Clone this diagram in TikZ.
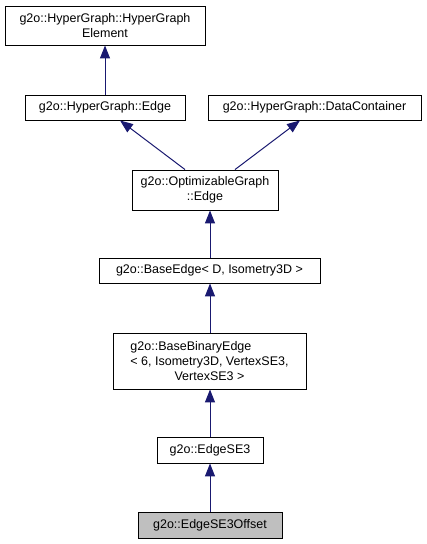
\documentclass[tikz,border=0pt]{standalone}
\usepackage{fontspec}
\setmainfont{Liberation Sans}
\usetikzlibrary{arrows.meta,calc}
\definecolor{edgeblue}{HTML}{191970}
\definecolor{curfill}{HTML}{BFBFBF}
\tikzset{
  cls/.style={draw=black, line width=0.9pt, fill=white, inner sep=0pt, align=center,
    font=\fontsize{12.5}{15}\selectfont},
  inh/.style={draw=edgeblue, line width=1pt, -{Triangle[length=13pt,width=10pt,fill=edgeblue]}},
}
\begin{document}
\begin{tikzpicture}[x=1pt,y=-1pt]
\useasboundingbox (0,0) rectangle (427,544);
\node[cls, minimum width=200, minimum height=39] (elem) at (105,25.5) {g2o::HyperGraph::HyperGraph\\Element};
\node[cls, minimum width=160, minimum height=25] (hge) at (105,107.5) {g2o::HyperGraph::Edge};
\node[cls, minimum width=213, minimum height=25] (dc) at (314.5,107.5) {g2o::HyperGraph::DataContainer};
\node[cls, minimum width=146, minimum height=40] (oge) at (205,190) {g2o::OptimizableGraph\\::Edge};
\node[cls, minimum width=221, minimum height=25] (be) at (209.5,270.5) {g2o::BaseEdge< D, Isometry3D >};
\node[cls, minimum width=193, minimum height=56] (bbe) at (209.5,361) {\rlap{g2o::BaseBinaryEdge}\phantom{< 6, Isometry3D, VertexSE3,}\\< 6, Isometry3D, VertexSE3,\\VertexSE3 >};
\node[cls, minimum width=106, minimum height=26] (se3) at (210,450) {g2o::EdgeSE3};
\node[cls, fill=curfill, minimum width=144, minimum height=26] (off) at (210,525) {g2o::EdgeSE3Offset};

\draw[inh] (hge.north) -- (elem.south);
\draw[inh] ($(oge.north)+(-20,0)$) -- ($(hge.south)+(15,0)$);
\draw[inh] ($(oge.north)+(30,0)$) -- ($(dc.south)+(-14.5,0)$);
\draw[inh] ($(be.north)+(0.5,0)$) -- ($(oge.south)+(5,0)$);
\draw[inh] ($(bbe.north)+(0.5,0)$) -- ($(be.south)+(0.5,0)$);
\draw[inh] (se3.north) -- ($(bbe.south)+(0.5,0)$);
\draw[inh] (off.north) -- (se3.south);
\end{tikzpicture}
\end{document}
